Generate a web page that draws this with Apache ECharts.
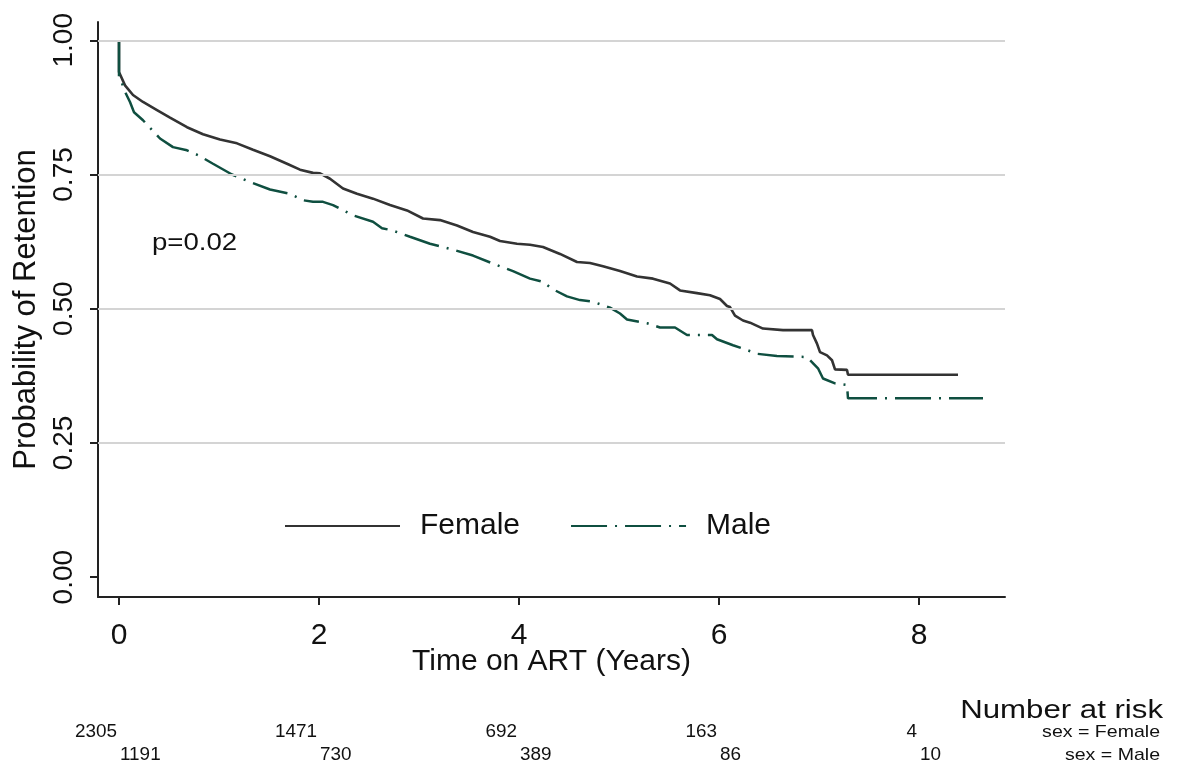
<!DOCTYPE html>
<html><head><meta charset="utf-8">
<script src="https://cdn.jsdelivr.net/npm/echarts@6/dist/echarts.min.js"></script>
<style>html,body{margin:0;padding:0;background:#fff}#c{width:1184px;height:767px}</style>
</head><body><div id="c"></div>
<script>
const FONT = '"Liberation Sans", Arial, sans-serif';

const femaleTime = [0,0,0.06,0.14,0.24,0.38,0.51,0.68,0.84,1.01,1.18,1.34,1.51,1.68,1.81,1.94,2.01,2.11,2.24,2.38,2.54,2.71,2.88,3.04,3.21,3.38,3.54,3.71,3.81,3.98,4.11,4.24,4.41,4.58,4.71,4.84,5.01,5.18,5.34,5.51,5.61,5.78,5.91,6.01,6.08,6.11,6.16,6.24,6.31,6.44,6.64,6.93,6.94,6.98,7.01,7.08,7.13,7.16,7.28,7.29,8.39];
const femaleSurv = [1,0.941,0.916,0.898,0.885,0.870,0.856,0.838,0.825,0.815,0.808,0.796,0.784,0.770,0.759,0.753,0.752,0.742,0.724,0.714,0.705,0.693,0.683,0.668,0.665,0.655,0.643,0.634,0.626,0.621,0.619,0.615,0.602,0.587,0.585,0.579,0.570,0.560,0.556,0.547,0.534,0.529,0.525,0.518,0.505,0.503,0.487,0.478,0.474,0.463,0.460,0.460,0.451,0.435,0.419,0.413,0.404,0.387,0.386,0.377,0.377];

const maleTime = [0,0,0.02,0.06,0.11,0.15,0.24,0.33,0.41,0.54,0.68,0.79,0.94,1.13,1.31,1.51,1.71,1.84,1.94,2.04,2.14,2.34,2.54,2.63,2.73,2.91,3.11,3.34,3.54,3.74,3.94,4.11,4.24,4.33,4.48,4.61,4.74,4.91,5.01,5.08,5.28,5.41,5.56,5.68,5.93,5.98,6.14,6.28,6.38,6.58,6.88,6.99,7.04,7.16,7.28,7.29,8.64];
const maleSurv = [1,0.93,0.925,0.904,0.885,0.866,0.851,0.833,0.817,0.801,0.795,0.786,0.770,0.750,0.736,0.722,0.714,0.702,0.699,0.699,0.693,0.674,0.662,0.650,0.646,0.634,0.621,0.610,0.599,0.584,0.570,0.556,0.550,0.537,0.523,0.516,0.513,0.502,0.491,0.480,0.473,0.465,0.465,0.451,0.451,0.443,0.432,0.423,0.416,0.412,0.410,0.389,0.370,0.361,0.358,0.333,0.333];

const xTicks = [0,2,4,6,8];
const yTicks = [0,0.25,0.5,0.75,1];
const yTickLabels = ['0.00','0.25','0.50','0.75','1.00'];
const gridValues = [0.25,0.5,0.75,1];

const riskTimes = [0,2,4,6,8];
const femaleRisk = [2305,1471,692,163,4];
const maleRisk = [1191,730,389,86,10];
const riskTitle = 'Number at risk';
const riskRowLabels = ['sex = Female','sex = Male'];
const seriesNames = ['Female','Male'];
const annotationText = 'p=0.02';
const annotationPos = [0.33, 0.622];

const femaleColor = '#333333';
const maleColor = '#0f4f40';

const chart = echarts.init(document.getElementById('c'), null, {renderer:'canvas'});

const option = {
  animation: false,
  backgroundColor: '#ffffff',
  textStyle: {fontFamily: FONT},
  grid: {left: 98, right: 179, top: 22, bottom: 170, containLabel: false},
  legend: {
    left: 279, top: 506, itemWidth: 115, itemHeight: 28, itemGap: 50,
    itemStyle: {color: 'transparent', borderWidth: 0, borderColor: 'transparent'},
    textStyle: {fontSize: 30, color: '#111', fontFamily: FONT, padding: [0,0,0,15]},
    data: seriesNames
  },
  xAxis: {
    type: 'value', min: -0.21, max: 8.86,
    axisLine: {show: true, onZero: false, lineStyle: {color: '#222', width: 2}},
    axisTick: {show: true, length: 8, customValues: xTicks, lineStyle: {color: '#222', width: 2}},
    axisLabel: {customValues: xTicks, fontSize: 30, margin: 24, color: '#111', fontFamily: FONT},
    splitLine: {show: false},
    name: 'Time on ART (Years)', nameLocation: 'middle', nameGap: 50, nameMoveOverlap: false,
    nameTextStyle: {fontSize: 30, color: '#111', fontFamily: FONT}
  },
  yAxis: {
    type: 'value', min: -0.037, max: 1.034,
    axisLine: {show: true, onZero: false, lineStyle: {color: '#222', width: 2}},
    axisTick: {show: true, length: 8, customValues: yTicks, lineStyle: {color: '#222', width: 2}},
    axisLabel: {customValues: yTicks, rotate: 90, fontSize: 28, margin: 20, color: '#111', fontFamily: FONT,
      formatter: v => { const i = yTicks.findIndex(t => Math.abs(t - v) < 1e-6); return i >= 0 ? yTickLabels[i] : ''; }},
    splitLine: {show: false},
    name: 'Probability of Retention', nameLocation: 'middle', nameGap: 50, nameRotate: 90,
    nameTextStyle: {fontSize: 31, color: '#111', fontFamily: FONT}
  },
  series: [
    {
      name: 'grid', type: 'line', data: [], z: 1, silent: true,
      markLine: {silent: true, symbol: ['none','none'], label: {show: false},
        lineStyle: {color: '#d4d4d4', width: 2, type: 'solid'},
        data: gridValues.map(v => ({yAxis: v}))}
    },
    {
      name: seriesNames[0], type: 'line', symbol: 'none', z: 3,
      lineStyle: {color: femaleColor, width: 2.6, type: 'solid'},
      itemStyle: {color: femaleColor},
      data: femaleTime.map((t, i) => [t, femaleSurv[i]])
    },
    {
      name: seriesNames[1], type: 'line', symbol: 'none', z: 4,
      lineStyle: {color: maleColor, width: 2.5, type: [36, 8, 2, 8]},
      itemStyle: {color: maleColor},
      data: maleTime.map((t, i) => [t, maleSurv[i]])
    }
  ]
};
chart.setOption(option);

const gfx = [];
const txt = (x, y, text, size, align, sx) => ({
  type: 'text', x: x, y: y, scaleX: sx, silent: true,
  style: {text: text, fontSize: size, fontFamily: FONT, fill: '#111', textAlign: align, textVerticalAlign: 'middle'}
});
const ap = chart.convertToPixel({gridIndex: 0}, annotationPos);
gfx.push(txt(ap[0], ap[1], annotationText, 23, 'left', 1.2));
gfx.push(txt(1163, 711, riskTitle, 26, 'right', 1.2));
riskTimes.forEach((t, i) => {
  const px = chart.convertToPixel({xAxisIndex: 0}, t);
  gfx.push(txt(px - 2, 732, String(femaleRisk[i]), 18, 'right', 1.05));
  gfx.push(txt(px + 1, 755, String(maleRisk[i]), 18, 'left', 1.05));
});
gfx.push(txt(1160, 732, riskRowLabels[0], 17, 'right', 1.15));
gfx.push(txt(1160, 755, riskRowLabels[1], 17, 'right', 1.15));
chart.setOption({graphic: gfx});
</script>
</body></html>
